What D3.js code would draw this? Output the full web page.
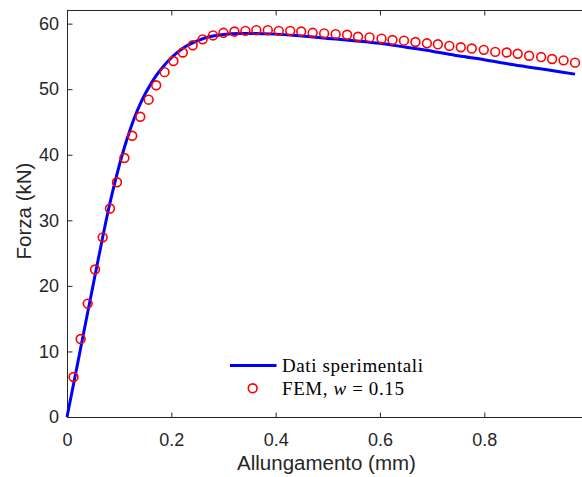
<!DOCTYPE html>
<html>
<head>
<meta charset="utf-8">
<script src="https://cdn.jsdelivr.net/npm/d3@7"></script>
<style>
  body { margin: 0; background: #fff; }
  svg { display: block; }
  .tick text { font-family: "Liberation Sans", Arial, sans-serif; font-size: 18px; fill: #262626; }
</style>
</head>
<body>
<svg id="chart" width="582" height="477"></svg>
<script>
// experimental curve (Dati sperimentali)
var expX = [0, 0.02, 0.04, 0.06, 0.08, 0.09, 0.10, 0.11, 0.12, 0.13, 0.14, 0.15, 0.16, 0.17, 0.185, 0.20, 0.21, 0.225, 0.242, 0.26, 0.28, 0.30, 0.33, 0.36, 0.40, 0.45, 0.50, 0.55, 0.60, 0.65, 0.70, 0.75, 0.80, 0.85, 0.90, 0.95, 0.974];
var expY = [0, 8.0, 16.1, 24.1, 31.8, 35.2, 38.3, 41.1, 43.6, 45.8, 47.7, 49.3, 50.7, 51.95, 53.5, 54.8, 55.5, 56.4, 57.1, 57.7, 58.1, 58.35, 58.5, 58.5, 58.4, 58.1, 57.75, 57.4, 57.0, 56.4, 55.8, 55.1, 54.5, 53.8, 53.2, 52.6, 52.3];

// FEM, w = 0.15
var femX = [0.0125, 0.0262, 0.0396, 0.0537, 0.0684, 0.0824, 0.0958, 0.110, 0.125, 0.1405, 0.1565, 0.171, 0.187, 0.204, 0.222, 0.241, 0.260, 0.280, 0.300, 0.321, 0.342, 0.363, 0.385, 0.406, 0.428, 0.449, 0.471, 0.493, 0.515, 0.537, 0.558, 0.580, 0.603, 0.624, 0.646, 0.668, 0.690, 0.711, 0.733, 0.755, 0.776, 0.799, 0.821, 0.843, 0.864, 0.886, 0.909, 0.930, 0.952, 0.974];
var femY = [6.1, 11.9, 17.3, 22.5, 27.4, 31.8, 35.8, 39.5, 42.9, 45.8, 48.4, 50.6, 52.6, 54.3, 55.6, 56.7, 57.6, 58.2, 58.6, 58.8, 58.9, 59.0, 59.0, 58.9, 58.9, 58.8, 58.6, 58.5, 58.4, 58.3, 58.0, 57.9, 57.7, 57.5, 57.4, 57.2, 57.0, 56.85, 56.6, 56.4, 56.2, 56.0, 55.7, 55.6, 55.4, 55.1, 54.9, 54.6, 54.4, 54.05];

var xTicks = [0, 0.2, 0.4, 0.6, 0.8];
var yTicks = [0, 10, 20, 30, 40, 50, 60];

// plot box (window.top is reserved, so prefixed names)
var pL = 67, pT = 10, pR = 586, pB = 417;

var svg = d3.select("#chart");

var x = d3.scaleLinear().domain([0, 0.995]).range([pL, pR]);
var y = d3.scaleLinear().domain([0, 62.08]).range([pB, pT]);

// frame
svg.append("rect")
    .attr("x", pL + 0.5).attr("y", pT + 0.5)
    .attr("width", pR - pL).attr("height", pB - pT)
    .attr("fill", "none").attr("stroke", "#262626").attr("stroke-width", 1);

var fmt = function(d) { return d === 0 ? "0" : d3.format(".1f")(d); };

function tidy(g) {
    g.select(".domain").remove();
    g.selectAll("line").attr("stroke", "#262626");
}

// axes, ticks pointing inwards
svg.append("g")
    .attr("transform", "translate(0," + (pB + 0.5) + ")")
    .call(d3.axisBottom(x).tickValues(xTicks).tickFormat(fmt).tickSizeInner(-5).tickSizeOuter(0).tickPadding(16))
    .call(tidy);

svg.append("g")
    .attr("transform", "translate(0," + (pT + 0.5) + ")")
    .call(d3.axisTop(x).tickValues(xTicks).tickFormat("").tickSizeInner(-5).tickSizeOuter(0))
    .call(tidy);

svg.append("g")
    .attr("transform", "translate(" + (pL + 0.5) + ",0)")
    .call(d3.axisLeft(y).tickValues(yTicks).tickSizeInner(-5).tickSizeOuter(0).tickPadding(8.5))
    .call(tidy);

// experimental line
var line = d3.line()
    .x(function(d) { return x(d[0]); })
    .y(function(d) { return y(d[1]); })
    .curve(d3.curveMonotoneX);

svg.append("path")
    .datum(d3.zip(expX, expY))
    .attr("d", line)
    .attr("fill", "none")
    .attr("stroke", "#0000ff")
    .attr("stroke-width", 3);

// FEM markers
svg.append("g").selectAll("circle")
    .data(d3.zip(femX, femY))
    .enter().append("circle")
    .attr("cx", function(d) { return x(d[0]); })
    .attr("cy", function(d) { return y(d[1]); })
    .attr("r", 4.4)
    .attr("fill", "none")
    .attr("stroke", "#ff0000")
    .attr("stroke-width", 1.6);

// axis labels
svg.append("text")
    .attr("x", 326.5).attr("y", 470)
    .attr("text-anchor", "middle")
    .style("font-family", "Liberation Sans, Arial, sans-serif")
    .style("font-size", "20.5px").attr("fill", "#262626")
    .text("Allungamento (mm)");

svg.append("text")
    .attr("transform", "translate(30.5,211) rotate(-90)")
    .attr("text-anchor", "middle")
    .style("font-family", "Liberation Sans, Arial, sans-serif")
    .style("font-size", "20.5px").attr("fill", "#262626")
    .text("Forza (kN)");

// legend
var lg = svg.append("g")
    .style("font-family", "Liberation Serif, Times New Roman, serif")
    .style("font-size", "19px")
    .style("letter-spacing", "0.6px")
    .attr("fill", "#000");

lg.append("line")
    .attr("x1", 230).attr("x2", 276.5).attr("y1", 365.5).attr("y2", 365.5)
    .attr("stroke", "#0000ff").attr("stroke-width", 3);
lg.append("text").attr("x", 282).attr("y", 371.5).text("Dati sperimentali");

lg.append("circle")
    .attr("cx", 252.7).attr("cy", 388.3).attr("r", 4.4)
    .attr("fill", "none").attr("stroke", "#ff0000").attr("stroke-width", 1.6);
var t2 = lg.append("text").attr("x", 282).attr("y", 394.5);
t2.append("tspan").text("FEM, ");
t2.append("tspan").style("font-style", "italic").text("w");
t2.append("tspan").text(" = 0.15");
</script>
</body>
</html>
